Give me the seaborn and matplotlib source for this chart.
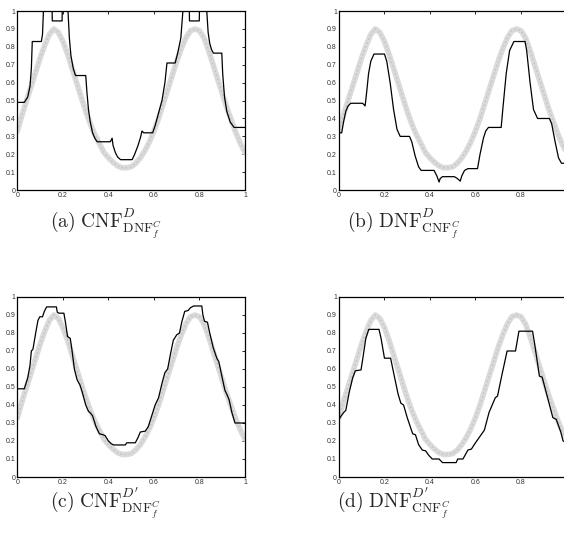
import numpy as np
import matplotlib
matplotlib.use("Agg")
import matplotlib.pyplot as plt
import seaborn as sns

# noisy target curve (gray band), read every 0.02
gray_x = [i / 50 for i in range(51)]
gray_y = [0.33, 0.42, 0.50, 0.58, 0.66, 0.74, 0.81, 0.87, 0.90, 0.88,
          0.83, 0.76, 0.68, 0.60, 0.52, 0.44, 0.37, 0.31, 0.26, 0.21,
          0.18, 0.155, 0.135, 0.125, 0.125, 0.13, 0.15, 0.18, 0.22, 0.27,
          0.33, 0.40, 0.48, 0.56, 0.64, 0.72, 0.79, 0.85, 0.89, 0.90,
          0.89, 0.85, 0.78, 0.70, 0.62, 0.54, 0.46, 0.39, 0.32, 0.26, 0.21]

# (a) CNF^D_{DNF^C_f}
a_x = [0, 0.03, 0.045, 0.055, 0.061, 0.065, 0.105, 0.11, 0.114, 0.116, 0.151, 0.153,
       0.196, 0.198, 0.22, 0.222, 0.228, 0.235, 0.245, 0.255, 0.3, 0.305, 0.312, 0.32,
       0.33, 0.34, 0.35, 0.408, 0.416, 0.42, 0.43, 0.44, 0.453, 0.504, 0.515, 0.53,
       0.542, 0.547, 0.555, 0.594, 0.605, 0.62, 0.635, 0.648, 0.657, 0.693, 0.705,
       0.718, 0.727, 0.73, 0.754, 0.756, 0.799, 0.801, 0.83, 0.832, 0.838, 0.845,
       0.853, 0.861, 0.898, 0.902, 0.91, 0.92, 0.935, 0.952, 1.0]
a_y = [0.49, 0.49, 0.52, 0.58, 0.68, 0.83, 0.83, 0.87, 1.0, 1.1, 1.1, 0.945,
       0.945, 1.1, 1.1, 1.0, 0.85, 0.75, 0.68, 0.64, 0.64, 0.55, 0.45, 0.38,
       0.32, 0.29, 0.27, 0.27, 0.29, 0.25, 0.21, 0.185, 0.17, 0.17, 0.2, 0.25,
       0.3, 0.33, 0.32, 0.32, 0.36, 0.43, 0.5, 0.6, 0.71, 0.71, 0.77,
       0.85, 1.0, 1.1, 1.1, 0.945, 0.945, 1.1, 1.1, 1.0, 0.88, 0.82,
       0.785, 0.765, 0.765, 0.65, 0.52, 0.44, 0.38, 0.35, 0.35]

# (b) DNF^D_{CNF^C_f}
b_x = [0, 0.003, 0.012, 0.02, 0.03, 0.04, 0.052, 0.104, 0.115, 0.122, 0.13, 0.14,
       0.154, 0.2, 0.21, 0.225, 0.24, 0.255, 0.269, 0.31, 0.32, 0.335, 0.35, 0.361,
       0.418, 0.43, 0.44, 0.445, 0.455, 0.507, 0.52, 0.533, 0.54, 0.552, 0.567,
       0.609, 0.62, 0.635, 0.645, 0.657, 0.713, 0.72, 0.735, 0.75, 0.769, 0.818,
       0.825, 0.84, 0.855, 0.873, 0.925, 0.935, 0.95, 0.965, 0.978, 1.0]
b_y = [0.34, 0.32, 0.32, 0.38, 0.44, 0.47, 0.485, 0.485, 0.47, 0.55, 0.65, 0.72,
       0.76, 0.76, 0.72, 0.6, 0.45, 0.34, 0.3, 0.3, 0.27, 0.19, 0.13, 0.11,
       0.11, 0.08, 0.045, 0.065, 0.075, 0.075, 0.065, 0.05, 0.08, 0.11, 0.12,
       0.12, 0.2, 0.29, 0.33, 0.35, 0.35, 0.45, 0.65, 0.78, 0.83, 0.83,
       0.78, 0.6, 0.45, 0.4, 0.4, 0.37, 0.27, 0.18, 0.15, 0.15]

# (c) CNF^{D'}_{DNF^C_f}
c_x = [0, 0.03, 0.045, 0.055, 0.061, 0.068, 0.08, 0.09, 0.098, 0.11, 0.118, 0.128,
       0.171, 0.175, 0.182, 0.204, 0.212, 0.22, 0.232, 0.24, 0.25, 0.262, 0.275,
       0.285, 0.3, 0.312, 0.321, 0.33, 0.345, 0.36, 0.375, 0.385, 0.4, 0.412,
       0.423, 0.474, 0.48, 0.518, 0.53, 0.54, 0.562, 0.575, 0.59, 0.605, 0.62,
       0.635, 0.648, 0.66, 0.672, 0.685, 0.7, 0.712, 0.722, 0.735, 0.75, 0.76,
       0.774, 0.81, 0.815, 0.822, 0.835, 0.845, 0.86, 0.876, 0.885, 0.9, 0.912,
       0.92, 0.93, 0.942, 0.956, 1.0]
c_y = [0.49, 0.49, 0.55, 0.62, 0.7, 0.71, 0.8, 0.87, 0.89, 0.89, 0.92, 0.945,
       0.945, 0.915, 0.91, 0.91, 0.85, 0.78, 0.77, 0.7, 0.6, 0.54, 0.51,
       0.47, 0.4, 0.365, 0.355, 0.34, 0.28, 0.24, 0.235, 0.23, 0.2, 0.185,
       0.178, 0.178, 0.19, 0.19, 0.22, 0.25, 0.255, 0.28, 0.34, 0.4, 0.44,
       0.52, 0.58, 0.6, 0.68, 0.76, 0.79, 0.8, 0.86, 0.92, 0.925, 0.94,
       0.95, 0.95, 0.9, 0.865, 0.86, 0.8, 0.72, 0.66, 0.64, 0.55, 0.48,
       0.46, 0.43, 0.36, 0.3, 0.3]

# (d) DNF^{D'}_{CNF^C_f}
d_x = [0, 0.01, 0.022, 0.03, 0.045, 0.06, 0.072, 0.097, 0.105, 0.118, 0.131, 0.176,
       0.185, 0.2, 0.227, 0.24, 0.26, 0.272, 0.284, 0.3, 0.324, 0.336, 0.35, 0.366,
       0.381, 0.395, 0.41, 0.44, 0.455, 0.515, 0.522, 0.545, 0.567, 0.582, 0.6,
       0.639, 0.66, 0.687, 0.697, 0.715, 0.739, 0.776, 0.791, 0.851, 0.86, 0.881,
       0.893, 0.915, 0.94, 0.955, 0.975, 0.985, 1.0]
d_y = [0.32, 0.34, 0.36, 0.37, 0.47, 0.55, 0.59, 0.595, 0.66, 0.77, 0.82, 0.82,
       0.77, 0.66, 0.66, 0.58, 0.46, 0.41, 0.4, 0.33, 0.24, 0.235, 0.18, 0.15,
       0.145, 0.12, 0.1, 0.1, 0.08, 0.08, 0.1, 0.1, 0.15, 0.155, 0.19,
       0.26, 0.36, 0.44, 0.45, 0.56, 0.7, 0.7, 0.81, 0.81, 0.74, 0.56,
       0.555, 0.45, 0.33, 0.32, 0.25, 0.2, 0.19]

x_ticks = [0, 0.2, 0.4, 0.6, 0.8, 1]
x_labels = ["0", "0.2", "0.4", "0.6", "0.8", "1"]
y_ticks = [i / 10 for i in range(11)]
y_labels = ["0"] + ["0.%d" % i for i in range(1, 10)] + ["1"]

panels = [(a_x, a_y), (b_x, b_y), (c_x, c_y), (d_x, d_y)]
captions = [r"$\mathrm{(a)\ CNF}^{D}_{\mathrm{DNF}^{C}_{f}}$",
            r"$\mathrm{(b)\ DNF}^{D}_{\mathrm{CNF}^{C}_{f}}$",
            r"$\mathrm{(c)\ CNF}^{D'}_{\mathrm{DNF}^{C}_{f}}$",
            r"$\mathrm{(d)\ DNF}^{D'}_{\mathrm{CNF}^{C}_{f}}$"]

sns.set_style("white")
plt.rcParams["mathtext.fontset"] = "cm"
plt.rcParams["font.family"] = ["Liberation Sans", "DejaVu Sans"]

fig = plt.figure(figsize=(5.64, 5.51), dpi=100)
boxes = [[0.031, 0.655, 0.4034, 0.3249], [0.601, 0.655, 0.4034, 0.3249],
         [0.031, 0.1343, 0.4034, 0.3267], [0.601, 0.1343, 0.4034, 0.3267]]
cap_pos = [(50, 0.586), (347, 0.586), (50, 0.0762), (337, 0.0762)]

for i, (box, (px, py), cap, cp) in enumerate(zip(boxes, panels, captions, cap_pos)):
    ax = fig.add_axes(box)
    sns.lineplot(x=gray_x, y=gray_y, ax=ax, color="#dadada", lw=4.0,
                 estimator=None, sort=False)
    sns.lineplot(x=gray_x, y=gray_y, ax=ax, color="#c4c4c4", lw=1.0,
                 ls=(0, (1.2, 1.8)), estimator=None, sort=False)
    sns.lineplot(x=px, y=py, ax=ax, color="black", lw=0.9,
                 estimator=None, sort=False)
    ax.set_xlim(0, 1)
    ax.set_ylim(0, 1)
    ax.set_xticks(x_ticks)
    # right-hand panels run off the page edge, so their last label is not shown
    left = i % 2 == 0
    ax.set_xticklabels(x_labels if left else x_labels[:-1] + [""])
    ax.set_yticks(y_ticks)
    ax.set_yticklabels(y_labels)
    ax.tick_params(direction="in", length=2, width=0.6, top=True, right=left,
                   labelsize=5, colors="black", labelcolor="#333333", pad=1.5)
    for s in ax.spines.values():
        s.set_color("black")
        s.set_linewidth(0.9)
    fig.text(cp[0] / 564, cp[1], cap, fontsize=14, ha="left", va="baseline")

fig.savefig("out.png", dpi=100)
